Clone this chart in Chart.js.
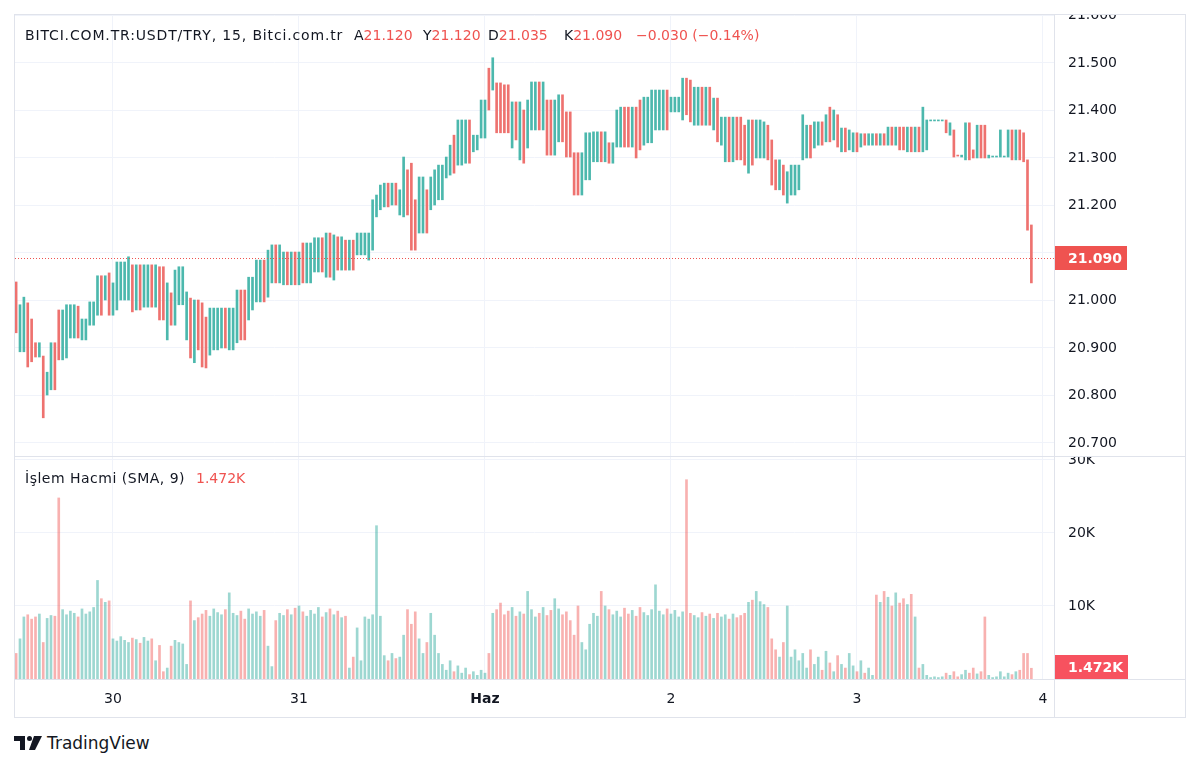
<!DOCTYPE html>
<html>
<head>
<meta charset="utf-8">
<script src="https://cdn.jsdelivr.net/npm/chart.js@4.4.1/dist/chart.umd.min.js"></script>
<style>
  html, body { margin: 0; padding: 0; background: #fff; }
  body { width: 1200px; height: 768px; position: relative; overflow: hidden; font-family: "DejaVu Sans", sans-serif; color: #131722; }
  .abs { position: absolute; }
  .frame { position: absolute; left: 14px; top: 14px; width: 1170px; height: 702px; border: 1px solid #e0e3eb; }
  .hline { position: absolute; height: 1px; background: #e0e3eb; }
  .vline { position: absolute; width: 1px; background: #e0e3eb; }
  .legend { position: absolute; font-size: 14px; white-space: nowrap; line-height: 16px; }
  .red { color: #ef5350; }
</style>
</head>
<body>
<div class="frame"></div>
<div class="abs" style="left:15px;top:15px;width:1170px;height:441px;"><canvas id="priceChart" width="1170" height="441"></canvas></div>
<div class="abs" style="left:15px;top:457px;width:1170px;height:260px;"><canvas id="volumeChart" width="1170" height="260"></canvas></div>
<div class="hline" style="left:14px;top:456px;width:1171px;"></div>
<div class="hline" style="left:14px;top:679px;width:1171px;"></div>
<div class="vline" style="left:1054px;top:14px;height:703px;"></div>

<div class="legend" style="left:25px;top:27px;letter-spacing:0.85px;">BITCI.COM.TR:USDT/TRY, 15, Bitci.com.tr</div>
<div class="legend" style="left:354px;top:27px;">A<span class="red">21.120</span></div>
<div class="legend" style="left:423px;top:27px;">Y<span class="red">21.120</span></div>
<div class="legend" style="left:488px;top:27px;">D<span class="red">21.035</span></div>
<div class="legend" style="left:564px;top:27px;">K<span class="red">21.090</span></div>
<div class="legend red" style="left:636px;top:27px;">−0.030 (−0.14%)</div>
<div class="legend" style="left:25px;top:470px;letter-spacing:0.5px;">İşlem Hacmi (SMA, 9)</div>
<div class="legend red" style="left:196px;top:470px;">1.472K</div>

<svg class="abs" style="left:14px;top:736px;" width="28" height="14" viewBox="0 0 28 14">
  <path d="M0 0h11v14h-5v-9h-6z" fill="#131722"/>
  <circle cx="15.5" cy="2.5" r="2.5" fill="#131722"/>
  <path d="M20 0h8l-7 14h-6z" fill="#131722"/>
</svg>
<div class="abs" style="left:47px;top:733px;font-size:17px;line-height:20px;color:#131722;">TradingView</div>

<script>
// 30-minute bars, index 0 = first bar on the left
const highs = [
  21.039,20.991,21.007,20.995,20.961,20.911,20.911,20.883,20.849,20.911,
  20.911,20.980,20.980,20.991,20.991,20.991,20.988,20.961,20.961,20.997,
  20.997,21.052,21.052,21.052,21.058,21.037,21.081,21.081,21.081,21.092,
  21.075,21.075,21.075,21.075,21.075,21.075,21.075,21.071,21.071,21.037,
  21.016,21.064,21.071,21.071,21.018,21.005,21.001,21.001,20.995,20.965,
  20.984,20.984,20.984,20.984,20.984,20.984,20.984,21.022,21.022,21.022,
  21.049,21.049,21.085,21.085,21.085,21.106,21.117,21.117,21.117,21.102,
  21.102,21.102,21.102,21.102,21.121,21.121,21.121,21.132,21.132,21.132,
  21.142,21.142,21.138,21.134,21.134,21.127,21.127,21.127,21.142,21.142,
  21.142,21.142,21.212,21.222,21.243,21.247,21.247,21.247,21.247,21.233,
  21.302,21.275,21.289,21.212,21.260,21.260,21.233,21.260,21.275,21.285,
  21.285,21.302,21.327,21.348,21.380,21.380,21.380,21.380,21.348,21.348,
  21.422,21.422,21.489,21.511,21.458,21.458,21.454,21.454,21.418,21.418,
  21.418,21.401,21.422,21.460,21.460,21.460,21.460,21.422,21.422,21.422,
  21.433,21.433,21.397,21.397,21.311,21.311,21.311,21.353,21.353,21.355,
  21.355,21.355,21.355,21.332,21.332,21.401,21.407,21.407,21.407,21.407,
  21.407,21.422,21.428,21.428,21.443,21.443,21.443,21.443,21.443,21.428,
  21.428,21.428,21.468,21.468,21.464,21.449,21.449,21.449,21.449,21.449,
  21.426,21.426,21.386,21.386,21.386,21.386,21.386,21.386,21.369,21.380,
  21.380,21.380,21.380,21.376,21.369,21.338,21.296,21.296,21.285,21.271,
  21.285,21.285,21.285,21.391,21.369,21.369,21.376,21.376,21.376,21.391,
  21.407,21.401,21.391,21.363,21.363,21.359,21.353,21.353,21.351,21.351,
  21.351,21.351,21.351,21.351,21.351,21.365,21.365,21.365,21.365,21.365,
  21.365,21.365,21.365,21.365,21.407,21.380,21.380,21.380,21.380,21.380,
  21.380,21.374,21.359,21.306,21.306,21.374,21.374,21.317,21.369,21.369,
  21.369,21.306,21.304,21.304,21.359,21.304,21.359,21.359,21.359,21.359,
  21.353,21.296,21.159
];
const lows = [
  20.932,20.892,20.892,20.860,20.871,20.881,20.881,20.753,20.801,20.812,
  20.812,20.875,20.875,20.879,20.921,20.921,20.921,20.917,20.917,20.948,
  20.948,20.969,20.969,21.001,20.969,20.969,20.980,21.001,21.001,21.001,
  20.976,20.980,20.980,20.986,20.986,20.986,20.986,20.959,20.959,20.917,
  20.948,20.948,20.991,20.991,20.917,20.879,20.869,20.896,20.860,20.858,
  20.885,20.896,20.896,20.900,20.900,20.896,20.896,20.911,20.917,20.917,
  20.959,20.980,20.997,20.997,20.997,21.007,21.037,21.037,21.037,21.033,
  21.033,21.033,21.033,21.033,21.037,21.037,21.037,21.060,21.060,21.060,
  21.049,21.049,21.043,21.064,21.064,21.064,21.064,21.064,21.096,21.096,
  21.096,21.085,21.106,21.176,21.191,21.197,21.197,21.201,21.201,21.180,
  21.176,21.180,21.106,21.106,21.142,21.142,21.142,21.191,21.201,21.212,
  21.212,21.258,21.264,21.268,21.285,21.285,21.289,21.289,21.313,21.317,
  21.342,21.342,21.401,21.443,21.353,21.353,21.353,21.353,21.321,21.338,
  21.296,21.289,21.321,21.359,21.359,21.359,21.359,21.306,21.306,21.306,
  21.334,21.334,21.302,21.302,21.222,21.222,21.222,21.254,21.254,21.292,
  21.292,21.292,21.292,21.289,21.289,21.323,21.323,21.323,21.323,21.323,
  21.300,21.317,21.327,21.332,21.332,21.359,21.359,21.359,21.359,21.397,
  21.397,21.397,21.380,21.391,21.376,21.369,21.369,21.369,21.369,21.369,
  21.359,21.334,21.327,21.292,21.292,21.292,21.296,21.296,21.285,21.268,
  21.285,21.300,21.300,21.300,21.296,21.243,21.233,21.233,21.222,21.205,
  21.222,21.222,21.233,21.296,21.300,21.300,21.321,21.327,21.327,21.334,
  21.334,21.338,21.323,21.313,21.313,21.317,21.313,21.313,21.323,21.327,
  21.327,21.327,21.327,21.327,21.327,21.327,21.327,21.327,21.317,21.317,
  21.313,21.313,21.313,21.313,21.313,21.317,21.378,21.378,21.378,21.378,
  21.353,21.348,21.302,21.304,21.302,21.296,21.296,21.300,21.300,21.300,
  21.300,21.300,21.302,21.302,21.302,21.302,21.302,21.296,21.296,21.296,
  21.292,21.148,21.037
];
// 1 = closed up (teal), 0 = closed down (red)
const barUp = [
  0,1,1,0,0,0,1,0,1,1, 0,0,1,1,1,1,0,1,1,1, 1,1,0,1,0,1,1,1,1,1,
  0,1,0,1,1,0,1,0,0,1, 0,1,1,1,1,0,1,0,0,0, 1,1,1,1,0,1,1,1,0,0,
  1,1,1,1,0,1,1,0,1,1, 0,1,0,1,0,1,1,1,1,0, 1,0,1,0,1,0,1,0,1,1,
  1,1,1,1,1,1,0,1,0,1, 1,0,0,0,1,1,0,1,1,1, 1,1,1,0,1,1,1,0,1,1,
  1,1,0,1,0,0,0,0,1,0, 1,0,1,1,1,0,1,0,0,1, 1,0,0,0,0,0,1,1,1,1,
  1,0,1,0,1,1,1,0,0,1, 0,0,1,1,1,1,1,1,0,1, 1,1,1,0,0,1,1,0,1,0,
  1,0,1,1,0,1,0,0,0,1, 0,1,1,1,0,0,0,1,0,1, 1,1,1,1,1,0,1,1,0,1,
  0,1,0,1,0,1,1,0,1,0, 1,1,0,1,0,1,0,1,0,0, 1,0,1,0,1,1,1,1,1,1,
  0,1,0,0,1,1,0,0,1,0, 0,1,1,1,1,1,1,0,1,0, 0,0,0
];
// volume in thousands
const volumes = [
  3.5,5.5,8.5,8.8,8.2,8.5,8.9,5.0,8.3,8.7,
  8.6,24.8,9.5,8.8,9.3,9.0,8.5,9.6,8.9,9.2,
  9.8,13.5,11.0,10.5,10.7,5.5,5.2,5.8,5.3,5.0,
  5.6,5.4,4.9,5.7,5.2,5.5,2.5,4.6,1.0,1.5,
  4.5,5.3,5.0,4.8,2.0,10.7,8.0,8.4,8.9,9.4,
  8.6,9.6,9.1,8.8,9.5,11.8,9.0,8.7,9.3,8.2,
  9.6,8.9,9.2,8.6,9.4,4.5,1.7,8.0,9.0,8.7,
  9.5,8.8,9.7,10.0,9.2,8.6,9.4,8.9,9.8,8.5,
  9.1,9.6,8.8,9.3,8.4,8.6,1.5,3.0,7.0,2.5,
  8.5,8.2,8.8,21.0,8.6,3.2,2.5,3.5,2.8,3.0,
  6.0,9.5,7.5,9.2,5.5,3.5,5.0,9.0,6.0,3.5,
  2.0,1.2,2.5,1.0,1.8,0.8,1.5,0.6,1.0,0.5,
  1.2,0.8,3.5,9.0,9.5,10.4,8.8,9.3,9.8,8.6,
  9.2,8.9,12.0,9.5,8.5,9.0,9.8,8.7,9.4,11.0,
  9.6,8.8,9.2,8.0,6.0,10.0,5.0,4.0,7.5,9.0,
  8.6,12.0,10.0,9.5,8.8,9.3,8.5,9.7,8.9,9.4,
  8.6,9.8,9.1,8.7,9.5,12.9,9.3,8.8,9.6,8.9,
  9.4,8.5,9.2,27.3,9.0,8.7,8.4,9.1,8.6,8.9,
  8.3,9.0,8.5,8.8,8.2,8.9,8.4,8.7,9.0,10.5,
  10.8,12.0,10.6,10.2,9.8,5.5,4.0,3.0,5.0,10.0,
  3.0,4.0,2.5,3.5,1.5,4.0,2.0,3.0,1.2,3.8,
  2.2,1.0,3.2,2.0,1.5,3.5,1.8,1.0,2.5,0.8,
  1.5,0.5,11.5,10.5,12.0,11.2,10.0,11.8,10.4,11.0,
  10.2,11.6,8.5,1.5,2.0,0.5,0.2,0.3,0.2,0.3,
  0.8,0.5,1.0,0.3,0.6,1.2,0.8,1.5,0.7,1.0,
  8.5,0.5,0.2,0.3,1.0,0.3,0.8,0.6,1.0,1.2,
  3.5,3.5,1.472
];

const dayTicks = [25, 73, 121, 169, 217, 265];
const dayLabels = ["30", "31", "Haz", "2", "3", "4"];
const priceTicks = [20.7, 20.8, 20.9, 21.0, 21.1, 21.2, 21.3, 21.4, 21.5, 21.6];
const volumeTicks = [10, 20, 30];
const lastPrice = 21.090;
const lastVolume = 1.472;

const FONT = '"DejaVu Sans", sans-serif';
const TEXT = "#131722";
const GRID = "#f0f3fa";
const UP = "#4cb8ad";
const DOWN = "#ee726f";
const UP_VOL = "rgba(38,166,154,0.45)";
const DOWN_VOL = "rgba(239,83,80,0.45)";
const X_MIN = -0.29, X_MAX = 267.84;

Chart.defaults.font.family = FONT;
Chart.defaults.color = TEXT;

const priceData = highs.map((h, i) => ({ x: i, y: [lows[i], h] }));
const volumeData = volumes.map((v, i) => ({ x: i, y: v }));

function noPadding(s) {
  s.paddingTop = 0;
  s.paddingBottom = 0;
  s.paddingLeft = 0;
  s.paddingRight = 0;
}

function xScale(showLabels) {
  return {
    type: "linear",
    min: X_MIN,
    max: X_MAX,
    offset: false,
    afterBuildTicks: s => { s.ticks = dayTicks.map(v => ({ value: v })); },
    afterFit: s => { s.height = showLabels ? 38 : 0; noPadding(s); },
    grid: { color: GRID, drawTicks: false, offset: false },
    border: { display: false },
    ticks: {
      display: showLabels,
      autoSkip: false,
      maxRotation: 0,
      padding: 12,
      color: TEXT,
      font: ctx => ({ size: 14, weight: ctx.tick && ctx.tick.label === "Haz" ? "bold" : "normal" }),
      callback: v => dayLabels[dayTicks.indexOf(v)] ?? ""
    }
  };
}

function yScale(min, max, tickValues, fmt) {
  return {
    position: "right",
    min: min,
    max: max,
    afterBuildTicks: s => { s.ticks = tickValues.map(v => ({ value: v })); },
    afterFit: s => { s.width = 131; noPadding(s); },
    grid: { color: GRID, drawTicks: false },
    border: { display: false },
    ticks: { padding: 14, color: TEXT, font: { size: 14 }, callback: fmt }
  };
}

// dotted last-price line and red axis marker
const lastPriceMarker = {
  id: "lastPriceMarker",
  afterDatasetsDraw(chart) {
    const { ctx, chartArea, scales: { y } } = chart;
    const py = Math.round(y.getPixelForValue(lastPrice)) + 0.5;
    ctx.save();
    ctx.strokeStyle = "#ef5350";
    ctx.lineWidth = 1;
    ctx.setLineDash([1, 2]);
    ctx.beginPath();
    ctx.moveTo(chartArea.left, py);
    ctx.lineTo(chartArea.right, py);
    ctx.stroke();
    ctx.restore();
  },
  afterDraw(chart) {
    const { ctx, chartArea, scales: { y } } = chart;
    const py = Math.round(y.getPixelForValue(lastPrice));
    ctx.save();
    ctx.fillStyle = "#ef5350";
    ctx.fillRect(chartArea.right + 1, py - 12, 72, 24);
    ctx.fillStyle = "#fff";
    ctx.font = "bold 14px " + FONT;
    ctx.textBaseline = "middle";
    ctx.fillText(lastPrice.toFixed(3), chartArea.right + 14, py + 1);
    ctx.restore();
  }
};

const lastVolumeMarker = {
  id: "lastVolumeMarker",
  afterDraw(chart) {
    const { ctx, chartArea, scales: { y } } = chart;
    const py = Math.round(y.getPixelForValue(lastVolume));
    ctx.save();
    ctx.fillStyle = "#f7525f";
    ctx.fillRect(chartArea.right + 1, py - 13, 73, 25);
    ctx.fillStyle = "#fff";
    ctx.font = "bold 14px " + FONT;
    ctx.textBaseline = "middle";
    ctx.fillText(lastVolume.toFixed(3) + "K", chartArea.right + 14, py);
    ctx.restore();
  }
};

const baseOptions = {
  responsive: false,
  animation: false,
  layout: { padding: 0 },
  plugins: { legend: { display: false }, tooltip: { enabled: false } }
};

new Chart(document.getElementById("priceChart"), {
  type: "bar",
  data: {
    datasets: [{
      data: priceData,
      backgroundColor: barUp.map(u => (u ? UP : DOWN)),
      barThickness: 2,
      minBarLength: 1,
      borderWidth: 0
    }]
  },
  options: {
    ...baseOptions,
    scales: {
      x: xScale(false),
      y: yScale(20.6726, 21.601, priceTicks, v => v.toFixed(3))
    }
  },
  plugins: [lastPriceMarker]
});

new Chart(document.getElementById("volumeChart"), {
  type: "bar",
  data: {
    datasets: [{
      data: volumeData,
      backgroundColor: barUp.map(u => (u ? UP_VOL : DOWN_VOL)),
      barThickness: 2,
      borderWidth: 0
    }]
  },
  options: {
    ...baseOptions,
    scales: {
      x: xScale(true),
      y: yScale(0, 30.41, volumeTicks, v => v + "K")
    }
  },
  plugins: [lastVolumeMarker]
});
</script>
</body>
</html>
